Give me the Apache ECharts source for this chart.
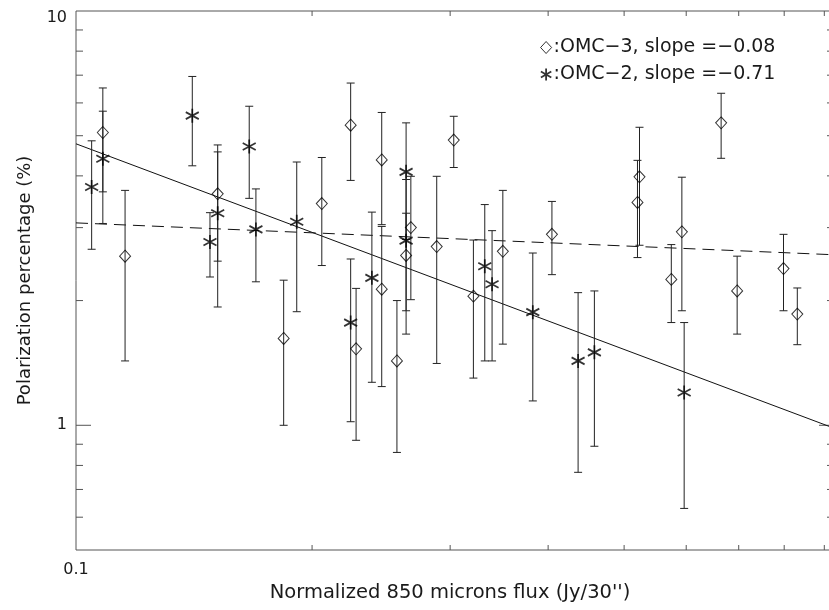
<!DOCTYPE html>
<html><head><meta charset="utf-8">
<script src="https://cdn.jsdelivr.net/npm/echarts@6/dist/echarts.min.js"></script>
<style>html,body{margin:0;padding:0;background:#fff}#c{width:829px;height:610px}</style>
</head><body><div id="c"></div>
<script>
// ---- data ----
const OMC3_NAME = ':OMC\u22123, slope =\u22120.08';
const OMC2_NAME = ':OMC\u22122, slope =\u22120.71';

const OMC3_X   = [0.1082,0.1155,0.1516,0.1840,0.2058,0.2240,0.2276,0.2454,0.2454,0.2566,0.2636,0.2673,0.2884,0.3032,0.3212,0.3502,0.4045,0.5200,0.5231,0.5743,0.5924,0.6648,0.6968,0.7984,0.8314];
const OMC3_Y   = [5.09,2.56,3.62,1.62,3.43,5.30,1.53,4.37,2.13,1.43,2.57,3.00,2.70,4.88,2.05,2.63,2.89,3.45,3.98,2.25,2.93,5.37,2.11,2.39,1.855];
const OMC3_ERR = [1.43,1.13,1.13,0.62,1.00,1.40,0.61,1.32,0.89,0.57,0.68,0.99,1.29,0.69,0.75,1.06,0.58,0.91,1.26,0.48,1.04,0.96,0.45,0.50,0.29];

const OMC2_X   = [0.1047,0.1082,0.1407,0.1482,0.1516,0.1663,0.1696,0.1912,0.2240,0.2384,0.2636,0.2636,0.3321,0.3393,0.3824,0.4368,0.4582,0.5964];
const OMC2_Y   = [3.76,4.40,5.59,2.77,3.25,4.71,2.97,3.10,1.77,2.27,4.09,2.79,2.42,2.19,1.875,1.43,1.50,1.20];
const OMC2_ERR = [1.10,1.33,1.36,0.49,1.32,1.18,0.75,1.22,0.75,1.00,1.28,1.13,0.99,0.76,0.73,0.66,0.61,0.57];

const FIT3_X = [0.1, 0.926];
const FIT3_Y = [3.08, 2.58];
const FIT2_X = [0.1, 0.926];
const FIT2_Y = [4.78, 0.984];

const X_MIN = 0.1, X_MAX = 0.926, Y_MIN = 0.5, Y_MAX = 10;
const X_MINOR_TICKS = [0.2,0.3,0.4,0.5,0.6,0.7,0.8,0.9];
const Y_MAJOR_TICKS = [1];
const Y_MINOR_TICKS = [0.6,0.7,0.8,0.9,2,3,4,5,6,7,8,9];
const X_TICK_LABELS = ['0.1'];
const Y_TICK_LABELS = ['1','10'];

// ---- styles ----
const FONT = 'DejaVu Sans';
const TXT = '#1a1a1a';
const AX = '#555';
const DIAMOND = 'path://M0,-6L5.5,0L0,6L-5.5,0Z';
const STAR = 'path://M0,-6L0,6M-5.2,-3L5.2,3M-5.2,3L5.2,-3';

const zip = (xs, ys) => xs.map((x, i) => [x, ys[i]]);
const zip3 = (xs, ys, es) => xs.map((x, i) => [x, ys[i], es[i]]);
const near = (a, b) => Math.abs(a - b) < 1e-6 * Math.max(1, Math.abs(b));

function errRender(params, api) {
  const x = api.value(0), y = api.value(1), e = api.value(2);
  const t = api.coord([x, y + e]), b = api.coord([x, y - e]);
  const hw = 4, st = { stroke: '#222', lineWidth: 1 };
  return { type: 'group', children: [
    { type: 'line', shape: { x1: t[0], y1: t[1], x2: b[0], y2: b[1] }, style: st },
    { type: 'line', shape: { x1: t[0] - hw, y1: t[1], x2: t[0] + hw, y2: t[1] }, style: st },
    { type: 'line', shape: { x1: b[0] - hw, y1: b[1], x2: b[0] + hw, y2: b[1] }, style: st }
  ]};
}
function xTickRender(params, api) {
  const v = api.value(0);
  const b = api.coord([v, Y_MIN]), t = api.coord([v, Y_MAX]);
  const st = { stroke: AX, lineWidth: 1 };
  return { type: 'group', children: [
    { type: 'line', shape: { x1: b[0], y1: b[1], x2: b[0], y2: b[1] - 5 }, style: st },
    { type: 'line', shape: { x1: t[0], y1: t[1], x2: t[0], y2: t[1] + 5 }, style: st }
  ]};
}
function yTickRender(len) {
  return function (params, api) {
    const v = api.value(1);
    const l = api.coord([X_MIN, v]), r = api.coord([X_MAX, v]);
    const st = { stroke: AX, lineWidth: 1 };
    return { type: 'group', children: [
      { type: 'line', shape: { x1: l[0], y1: l[1], x2: l[0] + len, y2: l[1] }, style: st },
      { type: 'line', shape: { x1: r[0], y1: r[1], x2: r[0] - len, y2: r[1] }, style: st }
    ]};
  };
}

const chart = echarts.init(document.getElementById('c'), null, { renderer: 'canvas' });
chart.setOption({
  animation: false,
  backgroundColor: '#fff',
  grid: { left: 76, top: 11, width: 758, height: 539, outerBoundsMode: 'none', containLabel: false,
          show: true, borderColor: AX, borderWidth: 1, backgroundColor: 'transparent' },
  legend: {
    orient: 'vertical', left: 535, top: 33, itemWidth: 11, itemHeight: 12, itemGap: 8,
    textStyle: { fontFamily: FONT, fontSize: 19, color: TXT, padding: [0, 0, 0, -3] },
    data: [
      { name: OMC3_NAME, icon: DIAMOND, itemStyle: { color: 'transparent', borderColor: '#000', borderWidth: 1 } },
      { name: OMC2_NAME, icon: STAR, itemStyle: { color: 'transparent', borderColor: '#000', borderWidth: 1.8 } }
    ]
  },
  xAxis: {
    type: 'log', logBase: 10, min: X_MIN, max: X_MAX,
    name: 'Normalized 850 microns flux (Jy/30\'\')', nameLocation: 'middle', nameGap: 32,
    nameTextStyle: { fontFamily: FONT, fontSize: 19.5, color: TXT, padding: [0, 10, 0, 0] },
    axisLine: { show: false }, axisTick: { show: false }, splitLine: { show: false },
    axisLabel: {
      margin: 12, fontFamily: FONT, fontSize: 16, color: TXT, showMinLabel: true, showMaxLabel: true,
      formatter: v => { const s = X_TICK_LABELS.find(l => near(v, +l)); return s || ''; }
    }
  },
  yAxis: {
    type: 'log', logBase: 10, min: Y_MIN, max: Y_MAX,
    name: 'Polarization percentage (%)', nameLocation: 'middle', nameGap: 42,
    nameTextStyle: { fontFamily: FONT, fontSize: 18, color: TXT },
    axisLine: { show: false }, axisTick: { show: false }, splitLine: { show: false },
    axisLabel: {
      margin: 9, fontFamily: FONT, fontSize: 16, color: TXT, showMinLabel: true, showMaxLabel: true,
      formatter: v => {
        const s = Y_TICK_LABELS.find(l => near(v, +l));
        if (!s) return '';
        return near(v, Y_MAX) ? '{top|' + s + '}' : s;
      },
      rich: { top: { fontFamily: FONT, fontSize: 16, color: TXT, padding: [13, 0, 0, 0] } }
    }
  },
  series: [
    { type: 'custom', name: 'xticks', silent: true, renderItem: xTickRender, data: X_MINOR_TICKS.map(v => [v, Y_MIN]), encode: { x: 0, y: 1 }, z: 1 },
    { type: 'custom', name: 'yminor', silent: true, renderItem: yTickRender(7), data: Y_MINOR_TICKS.map(v => [X_MIN, v]), encode: { x: 0, y: 1 }, z: 1 },
    { type: 'custom', name: 'ymajor', silent: true, renderItem: yTickRender(15), data: Y_MAJOR_TICKS.map(v => [X_MIN, v]), encode: { x: 0, y: 1 }, z: 1 },
    { type: 'line', name: 'fit3', data: zip(FIT3_X, FIT3_Y), showSymbol: false, silent: true, clip: true,
      lineStyle: { color: '#111', width: 1, type: [12, 7] }, z: 2 },
    { type: 'line', name: 'fit2', data: zip(FIT2_X, FIT2_Y), showSymbol: false, silent: true, clip: true,
      lineStyle: { color: '#111', width: 1 }, z: 2 },
    { type: 'custom', name: 'err3', silent: true, renderItem: errRender, data: zip3(OMC3_X, OMC3_Y, OMC3_ERR), encode: { x: 0, y: 1 }, z: 3 },
    { type: 'custom', name: 'err2', silent: true, renderItem: errRender, data: zip3(OMC2_X, OMC2_Y, OMC2_ERR), encode: { x: 0, y: 1 }, z: 3 },
    { type: 'scatter', name: OMC3_NAME, data: zip(OMC3_X, OMC3_Y), symbol: DIAMOND, symbolSize: [11, 12],
      itemStyle: { color: 'transparent', borderColor: '#000', borderWidth: 1 }, z: 4 },
    { type: 'scatter', name: OMC2_NAME, data: zip(OMC2_X, OMC2_Y), symbol: STAR, symbolSize: [13, 14],
      itemStyle: { color: 'transparent', borderColor: '#000', borderWidth: 1.8 }, z: 4 }
  ]
});
</script></body></html>
